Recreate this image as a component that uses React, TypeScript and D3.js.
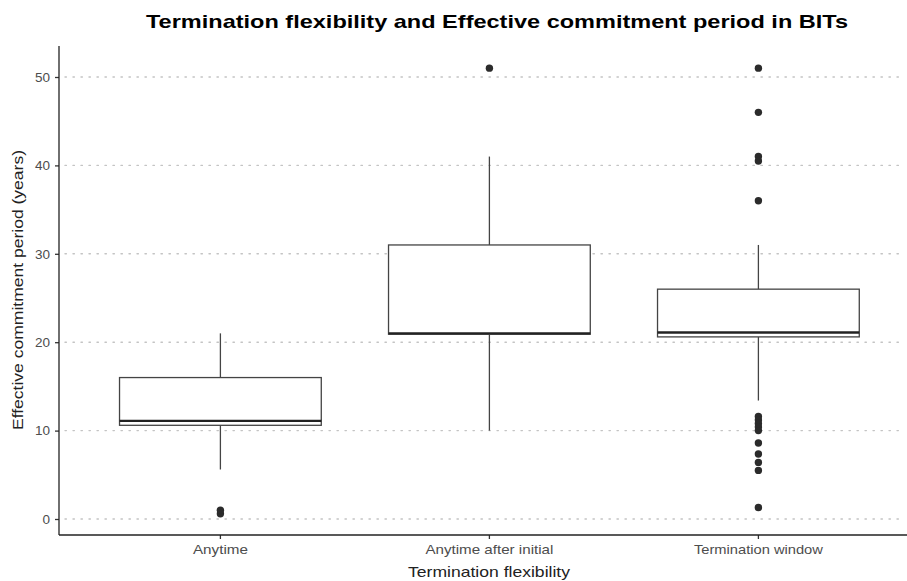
import React, { useEffect, useRef } from 'react';
import * as d3 from 'd3';

// box stats
const categories = ["Anytime", "Anytime after initial", "Termination window"];
const whiskerLow = [5.6, 10, 13.4];
const q1 = [10.6, 20.9, 20.6];
const medians = [11.1, 21.0, 21.1];
const q3 = [16, 31, 26];
const whiskerHigh = [21, 41, 31];
const outliers = [
  [0.6, 1.0],
  [51],
  [51, 46, 41, 40.5, 36, 11.6, 11.2, 10.8, 10.4, 10, 8.6, 7.35, 6.4, 5.5, 1.3]
];
const yTicks = [0, 10, 20, 30, 40, 50];
// label widths seen in the picture
const xLabelWidths = [55, 128, 129];

export default function App() {
  const ref = useRef<SVGSVGElement | null>(null);

  useEffect(() => {
    const width = 907;
    const height = 581;
    const marginLeft = 59;
    const panelTop = 46;
    const panelBottom = 535;
    const step = 269;
    const panelRight = marginLeft + step * 3.2;
    const font = '"Liberation Sans", Arial, sans-serif';

    const svg = d3.select(ref.current);
    svg.selectAll('*').remove();
    svg.attr('width', width).attr('height', height).style('font-family', font);

    const x = d3.scaleBand()
      .domain(categories)
      .range([marginLeft, panelRight])
      .paddingInner(0.25)
      .paddingOuter(0.225);

    const y = d3.scaleLinear()
      .domain([0, 50])
      .range([519, 77]);

    // grid
    svg.append('g')
      .selectAll('line')
      .data(yTicks)
      .join('line')
      .attr('x1', marginLeft + 6)
      .attr('x2', 904)
      .attr('y1', d => y(d))
      .attr('y2', d => y(d))
      .attr('stroke', '#c4c4c4')
      .attr('stroke-width', 1.4)
      .attr('stroke-dasharray', '1.4,6.6')
      .attr('stroke-linecap', 'round');

    const boxes = categories.map((c, i) => ({
      name: c, lo: whiskerLow[i], q1: q1[i], med: medians[i], q3: q3[i], hi: whiskerHigh[i], out: outliers[i]
    }));

    const g = svg.append('g');
    boxes.forEach(b => {
      const x0 = x(b.name)!;
      const bw = x.bandwidth();
      const cx = x0 + bw / 2;
      g.append('line')
        .attr('x1', cx).attr('x2', cx)
        .attr('y1', y(b.hi)).attr('y2', y(b.q3))
        .attr('stroke', '#444').attr('stroke-width', 1.3);
      g.append('line')
        .attr('x1', cx).attr('x2', cx)
        .attr('y1', y(b.q1)).attr('y2', y(b.lo))
        .attr('stroke', '#444').attr('stroke-width', 1.3);
      g.append('rect')
        .attr('x', x0).attr('width', bw)
        .attr('y', y(b.q3)).attr('height', y(b.q1) - y(b.q3))
        .attr('fill', 'white')
        .attr('stroke', '#444').attr('stroke-width', 1.3);
      g.append('line')
        .attr('x1', x0).attr('x2', x0 + bw)
        .attr('y1', y(b.med)).attr('y2', y(b.med))
        .attr('stroke', '#222').attr('stroke-width', 2.4);
      g.selectAll(null)
        .data(b.out)
        .join('circle')
        .attr('cx', cx)
        .attr('cy', d => y(d))
        .attr('r', 3.7)
        .attr('fill', '#2b2b2b');
    });

    // axes
    const yAxis = svg.append('g')
      .attr('transform', `translate(${marginLeft},0)`)
      .call(d3.axisLeft(y).tickValues(yTicks).tickSize(4).tickPadding(5));
    yAxis.select('.domain').remove();
    yAxis.append('line')
      .attr('x1', 0).attr('x2', 0)
      .attr('y1', panelTop).attr('y2', panelBottom)
      .attr('stroke', '#222').attr('stroke-width', 1.3);
    yAxis.selectAll('.tick line').attr('stroke', '#333').attr('stroke-width', 1.3);
    yAxis.selectAll('.tick text')
      .attr('fill', '#4d4d4d').attr('font-size', 13.5)
      .attr('font-family', font);

    const xAxis = svg.append('g')
      .attr('transform', `translate(0,${panelBottom})`)
      .call(d3.axisBottom(x).tickSize(4).tickPadding(6));
    xAxis.select('.domain').remove();
    xAxis.append('line')
      .attr('x1', marginLeft).attr('x2', panelRight)
      .attr('y1', 0).attr('y2', 0)
      .attr('stroke', '#222').attr('stroke-width', 1.3);
    xAxis.selectAll('.tick line').attr('stroke', '#333').attr('stroke-width', 1.3);
    xAxis.selectAll('.tick text')
      .attr('fill', '#4d4d4d').attr('font-size', 13)
      .attr('font-family', font)
      .attr('textLength', (d, i) => xLabelWidths[i])
      .attr('lengthAdjust', 'spacingAndGlyphs');

    // titles
    svg.append('text')
      .attr('x', 497).attr('y', 28)
      .attr('text-anchor', 'middle')
      .attr('font-size', 19)
      .attr('font-weight', 'bold')
      .attr('fill', '#000')
      .attr('textLength', 702)
      .attr('lengthAdjust', 'spacingAndGlyphs')
      .text('Termination flexibility and Effective commitment period in BITs');

    svg.append('text')
      .attr('x', 489).attr('y', 577)
      .attr('text-anchor', 'middle')
      .attr('font-size', 14.5)
      .attr('fill', '#222')
      .attr('textLength', 162)
      .attr('lengthAdjust', 'spacingAndGlyphs')
      .text('Termination flexibility');

    svg.append('text')
      .attr('transform', `translate(23,290) rotate(-90)`)
      .attr('text-anchor', 'middle')
      .attr('font-size', 14.5)
      .attr('fill', '#222')
      .attr('textLength', 280)
      .attr('lengthAdjust', 'spacingAndGlyphs')
      .text('Effective commitment period (years)');
  }, []);

  return (
    <svg ref={ref} style={{ position: 'absolute', left: 0, top: 0, background: 'white' }}></svg>
  );
}
